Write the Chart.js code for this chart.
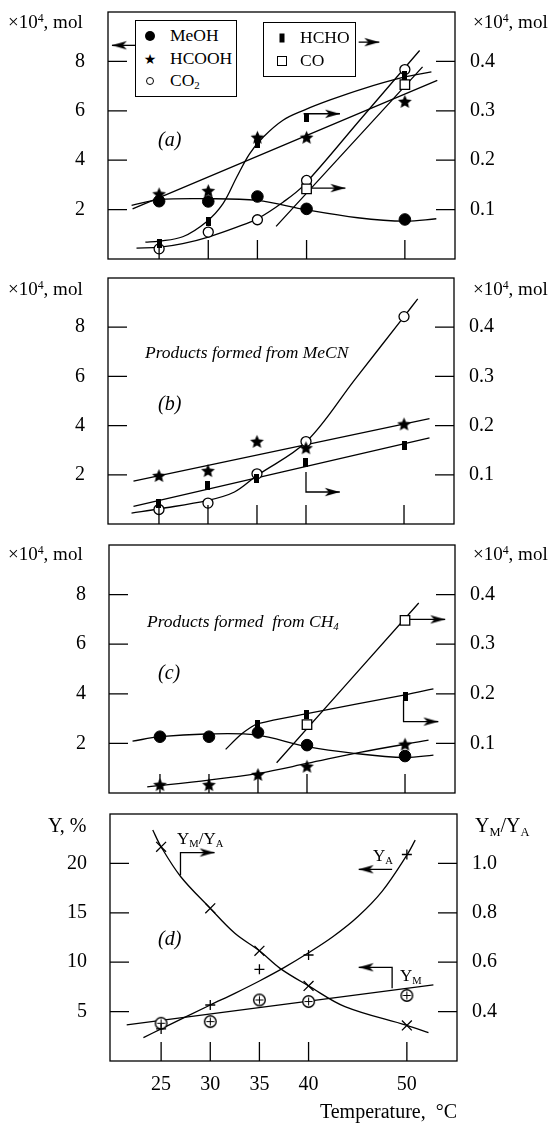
<!DOCTYPE html>
<html lang="en">
<head>
<meta charset="UTF-8">
<title>Products vs temperature</title>
<script src="https://cdn.jsdelivr.net/npm/chart.js"></script>
<style>
  body { margin: 0; background: #fff; }
  #page { position: relative; width: 552px; height: 1125px; overflow: hidden;
          font-family: "Liberation Serif", "Times New Roman", serif; color: #000; }
  canvas { position: absolute; left: 0; }
  .t { position: absolute; white-space: pre; line-height: 1; font-size: 19px; }
  .t sup { font-size: 0.62em; vertical-align: 0.55em; line-height: 0; }
  .t sub, .lg sub { font-size: 0.62em; vertical-align: -0.3em; line-height: 0; }
  .it { font-style: italic; }
  .lg { position: absolute; box-sizing: border-box; border: 1.3px solid #000; background: #fff; font-size: 17.5px; }
  .lg .row { position: absolute; left: 0; right: 0; height: 0; }
  .lg .sym { position: absolute; transform: translate(-50%, -50%); top: 0; }
  .lg .txt { position: absolute; top: -9px; line-height: 1; white-space: pre; }
  .dot { width: 10px; height: 10px; border-radius: 50%; background: #000; }
  .odot { width: 6px; height: 6px; border: 1.3px solid #000; border-radius: 50%; }
  .bar { width: 5px; height: 9px; background: #000; }
  .osq { width: 8px; height: 8px; border: 1.3px solid #000; }
  .star { font-family: "DejaVu Sans", sans-serif; font-size: 14px; line-height: 1; }
</style>
</head>
<body>
<div id="page">
  <canvas id="pa" width="552" height="268" style="top:0px"></canvas>
  <canvas id="pb" width="552" height="267" style="top:268px"></canvas>
  <canvas id="pc" width="552" height="269" style="top:535px"></canvas>
  <canvas id="pd" width="552" height="321" style="top:804px"></canvas>

  <!-- axis titles -->
  <div class="t" style="left:8px;top:12px">×10<sup>4</sup>, mol</div>
  <div class="t" style="left:473px;top:12px">×10<sup>4</sup>, mol</div>
  <div class="t" style="left:8px;top:279px">×10<sup>4</sup>, mol</div>
  <div class="t" style="left:473px;top:279px">×10<sup>4</sup>, mol</div>
  <div class="t" style="left:8px;top:544px">×10<sup>4</sup>, mol</div>
  <div class="t" style="left:473px;top:544px">×10<sup>4</sup>, mol</div>
  <div class="t" style="left:48px;top:815px;font-size:20px">Y, %</div>
  <div class="t" style="left:475px;top:815px;font-size:20px">Y<sub>M</sub>/Y<sub>A</sub></div>

  <!-- panel labels -->
  <div class="t it" style="left:158px;top:129px;font-size:20px">(a)</div>
  <div class="t it" style="left:158px;top:393px;font-size:20px">(b)</div>
  <div class="t it" style="left:158px;top:662px;font-size:20px">(c)</div>
  <div class="t it" style="left:158px;top:928px;font-size:20px">(d)</div>
  <div class="t it" style="left:145px;top:344px;font-size:17.5px">Products formed from MeCN</div>
  <div class="t it" style="left:147px;top:613px;font-size:17.5px">Products formed  from CH<sub>4</sub></div>
  <div class="t" style="left:177px;top:830px;font-size:17px">Y<sub>M</sub>/Y<sub>A</sub></div>
  <div class="t" style="left:373px;top:847px;font-size:17px">Y<sub>A</sub></div>
  <div class="t" style="left:400px;top:967px;font-size:17px">Y<sub>M</sub></div>

  <!-- legend boxes (panel a) -->
  <div class="lg" style="left:135px;top:20px;width:102px;height:77px">
    <div class="row" style="top:15px"><span class="sym dot" style="left:14px"></span><span class="txt" style="left:34px">MeOH</span></div>
    <div class="row" style="top:38px"><span class="sym star" style="left:14px">★</span><span class="txt" style="left:34px">HCOOH</span></div>
    <div class="row" style="top:60px"><span class="sym odot" style="left:14px"></span><span class="txt" style="left:34px">CO<sub>2</sub></span></div>
  </div>
  <div class="lg" style="left:263px;top:22px;width:93px;height:55px">
    <div class="row" style="top:15px"><span class="sym bar" style="left:18px"></span><span class="txt" style="left:36px">HCHO</span></div>
    <div class="row" style="top:38px"><span class="sym osq" style="left:18px"></span><span class="txt" style="left:36px">CO</span></div>
  </div>
</div>

<script>
  // temperatures (°C) and tick values
  const temps = [25, 30, 35, 40, 50];
  const xTicks = [25, 30, 35, 40, 50];
  const molTicks = [2, 4, 6, 8];
  const molTicksRight = [0.1, 0.2, 0.3, 0.4];
  const yieldTicks = [5, 10, 15, 20];
  const ratioTicks = [0.4, 0.6, 0.8, 1.0];

  // (a) measured points, x10^4 mol (HCHO and CO on right axis)
  const aMeOH = [2.34, 2.33, 2.53, 2.03, 1.60];
  const aHCOOH = [2.64, 2.77, 4.93, 4.93, 6.38];
  const aCO2 = [0.41, 1.09, 1.59, 3.18, 7.67];
  const aHCHO = [0.031, 0.075, 0.233, 0.287, 0.372];
  const aCOT = [40, 50];
  const aCO = [0.142, 0.353];
  // (a) drawn curves
  const aMeOHFitT = [22.2, 25, 29.8, 35, 40, 45.2, 50, 53.2];
  const aMeOHFit = [2.17, 2.40, 2.44, 2.37, 1.99, 1.67, 1.53, 1.63];
  const aHCOOHFitT = [22.3, 53.3];
  const aHCOOHFit = [2.03, 7.23];
  const aHCHOFitT = [23.6, 25, 27.4, 29.8, 31.5, 32.9, 34.2, 35.6, 37.6, 39.7, 42.4, 45.8, 49.9, 52.7];
  const aHCHOFit = [0.034, 0.036, 0.045, 0.075, 0.112, 0.166, 0.213, 0.247, 0.281, 0.301, 0.322, 0.345, 0.368, 0.379];
  const aCO2FitT = [22.7, 25.1, 27.4, 30.0, 32.9, 35.0, 37.6, 39.7, 45.6, 51.5];
  const aCO2Fit = [0.44, 0.48, 0.62, 0.89, 1.29, 1.63, 2.30, 2.98, 5.71, 8.44];
  const aCOFitT = [36.9, 51.8];
  const aCOFit = [0.066, 0.389];

  // (b) products from MeCN
  const bHCOOH = [1.97, 2.17, 3.36, 3.10, 4.07];
  const bHCHO = [0.041, 0.078, 0.093, 0.124, 0.160];
  const bCO2 = [0.59, 0.85, 2.04, 3.35, 8.43];
  const bHCOOHFitT = [22.4, 52.6];
  const bHCOOHFit = [1.74, 4.28];
  const bHCHOFitT = [22.4, 52.6];
  const bHCHOFit = [0.036, 0.175];
  const bCO2FitT = [22.2, 25.1, 30.0, 32.7, 35.0, 40.0, 45.0, 50.0, 51.4];
  const bCO2Fit = [0.44, 0.62, 0.96, 1.30, 1.97, 3.33, 5.88, 8.43, 9.15];

  // (c) products from CH4
  const cMeOH = [2.27, 2.27, 2.44, 1.93, 1.49];
  const cHCOOH = [0.34, 0.34, 0.75, 1.08, 1.97];
  const cHCHOT = [35, 40, 50];
  const cHCHO = [0.139, 0.159, 0.194];
  const cCOT = [40, 50];
  const cCO = [0.138, 0.348];
  const cMeOHFitT = [22.2, 25, 29.7, 34.8, 40, 44.8, 50, 52.9];
  const cMeOHFit = [2.09, 2.27, 2.38, 2.34, 1.87, 1.60, 1.43, 1.53];
  const cHCOOHFitT = [23.7, 30, 35, 40, 45.4, 52.4];
  const cHCOOHFit = [0.25, 0.52, 0.79, 1.19, 1.64, 2.13];
  const cHCHOFitT = [31.7, 33.2, 34.4, 35, 40, 50, 52.9];
  const cHCHOFit = [0.088, 0.117, 0.134, 0.140, 0.160, 0.198, 0.210];
  const cCOFitT = [36.9, 51.4];
  const cCOFit = [0.061, 0.383];

  // (d) yields (%) and YM/YA ratio (right axis)
  const dRatio = [1.067, 0.818, 0.646, 0.504, 0.344];
  const dYA = [3.25, 5.67, 9.28, 10.73, 20.9];
  const dYM = [3.82, 3.99, 6.18, 6.02, 6.63];
  const dRatioFitT = [24.15, 25, 27.0, 30, 32.5, 35, 37.1, 40, 43.7, 50, 52.2];
  const dRatioFit = [1.135, 1.067, 0.946, 0.818, 0.717, 0.646, 0.575, 0.504, 0.420, 0.344, 0.315];
  const dYAFitT = [23.2, 25, 30, 32.5, 35, 37.5, 40, 42.5, 45, 47.5, 50, 50.85];
  const dYAFit = [2.37, 3.25, 5.67, 6.85, 8.1, 9.45, 10.95, 12.6, 14.6, 17.2, 20.84, 22.35];
  const dYMFitT = [21.5, 52.7];
  const dYMFit = [3.65, 7.7];

  // pointer arrows (last point carries the head)
  const aArrowLegL = { t: [22.6, 20.2], y: [8.65, 8.65] };
  const aArrowLegR = { t: [45.3, 47.4], y: [8.78, 8.78] };
  const aArrowHCHO = { t: [39.7, 43.4], y: [5.88, 5.88] };
  const aArrowCO = { t: [40.4, 43.95], y: [2.87, 2.87] };
  const bArrowHCHO = { t: [40, 40, 43.45], y: [2.11, 1.30, 1.30] };
  const cArrowCO = { t: [50.4, 54.1], y: [7.0, 7.0] };
  const cArrowHCHO = { t: [49.85, 49.85, 53.4], y: [3.75, 2.88, 2.88] };
  const dArrowRatio = { t: [26.97, 26.97, 30.44], y: [18.8, 21.1, 21.1] };
  const dArrowYA = { t: [48.5, 45.1], y: [19.4, 19.4] };
  const dArrowYM = { t: [48.5, 48.5, 45.1], y: [7.36, 9.48, 9.48] };

  const X_MIN = 19.8, X_MAX = 55.1;
  const LW = 1.3;
  const FONT = { family: "'Liberation Serif', 'Times New Roman', serif", size: 20 };

  // marker glyphs
  function starImg(r) {
    const c = document.createElement('canvas');
    const s = Math.ceil(r * 2 + 2);
    c.width = c.height = s;
    const g = c.getContext('2d');
    g.translate(s / 2, s / 2 + r * 0.1);
    g.beginPath();
    for (let i = 0; i < 10; i++) {
      const rr = i % 2 ? r * 0.46 : r;
      const a = -Math.PI / 2 + i * Math.PI / 5;
      g.lineTo(rr * Math.cos(a), rr * Math.sin(a));
    }
    g.closePath();
    g.fill();
    return c;
  }
  function barImg() {
    const c = document.createElement('canvas');
    c.width = 5; c.height = 9;
    c.getContext('2d').fillRect(0, 0, 5, 9);
    return c;
  }
  function oplusImg() {
    const c = document.createElement('canvas');
    c.width = c.height = 15;
    const g = c.getContext('2d');
    g.lineWidth = 1.4;
    g.fillStyle = '#fff';
    g.strokeStyle = '#000';
    g.beginPath(); g.arc(7.5, 7.5, 5.8, 0, Math.PI * 2); g.fill(); g.stroke();
    g.lineWidth = 1;
    g.beginPath(); g.moveTo(7.5, 3.5); g.lineTo(7.5, 11.5); g.moveTo(3.5, 7.5); g.lineTo(11.5, 7.5); g.stroke();
    return c;
  }
  function headImg() {
    const c = document.createElement('canvas');
    c.width = 34; c.height = 12;
    const g = c.getContext('2d');
    g.beginPath();
    g.moveTo(17, 6); g.lineTo(2, 1.8); g.lineTo(6, 6); g.lineTo(2, 10.2);
    g.closePath();
    g.fill();
    return c;
  }
  const STAR = starImg(7.2), BAR = barImg(), OPLUS = oplusImg(), HEAD = headImg();

  const DOT = { pointStyle: 'circle', pointRadius: 5.8, pointBackgroundColor: '#000', pointBorderColor: '#000', pointBorderWidth: 1 };
  const OPEN = { pointStyle: 'circle', pointRadius: 5, pointBackgroundColor: '#fff', pointBorderColor: '#000', pointBorderWidth: LW };
  const OSQ = { pointStyle: 'rect', pointRadius: 6.7, pointBackgroundColor: '#fff', pointBorderColor: '#000', pointBorderWidth: LW };
  const STARM = { pointStyle: STAR, pointRadius: 6 };
  const BARM = { pointStyle: BAR, pointRadius: 5 };
  const XM = { pointStyle: 'crossRot', pointRadius: 7, pointBorderColor: '#000', pointBorderWidth: LW };
  const PLUS = { pointStyle: 'cross', pointRadius: 5, pointBorderColor: '#000', pointBorderWidth: LW };
  const OPM = { pointStyle: OPLUS, pointRadius: 6 };

  const pts = (xs, ys) => xs.map((x, i) => ({ x: x, y: ys[i] }));

  function marks(xs, ys, style, axis) {
    return Object.assign({ data: pts(xs, ys), showLine: false, yAxisID: axis || 'y' }, style);
  }
  function curve(xs, ys, axis) {
    return { data: pts(xs, ys), showLine: true, borderColor: '#000', borderWidth: LW,
             pointRadius: 0, tension: 0.35, yAxisID: axis || 'y' };
  }
  function arrow(a, rot) {
    return { data: pts(a.t, a.y), showLine: true, borderColor: '#000', borderWidth: LW, tension: 0,
             pointRadius: a.t.map((_, i) => i === a.t.length - 1 ? 6 : 0),
             pointStyle: HEAD, pointRotation: rot, yAxisID: 'y' };
  }

  // frame and inward tick marks
  const frameTicks = {
    id: 'frameTicks',
    afterDraw(chart) {
      const { ctx, chartArea: a, scales } = chart;
      const L = 19;
      ctx.save();
      ctx.strokeStyle = '#000';
      ctx.lineWidth = LW;
      ctx.strokeRect(a.left, a.top, a.right - a.left, a.bottom - a.top);
      ctx.beginPath();
      scales.x.ticks.forEach(t => {
        const p = scales.x.getPixelForValue(t.value);
        ctx.moveTo(p, a.bottom); ctx.lineTo(p, a.bottom - L);
      });
      scales.y.ticks.forEach(t => {
        const p = scales.y.getPixelForValue(t.value);
        ctx.moveTo(a.left, p); ctx.lineTo(a.left + L, p);
      });
      scales.y2.ticks.forEach(t => {
        const p = scales.y2.getPixelForValue(t.value);
        ctx.moveTo(a.right, p); ctx.lineTo(a.right - L, p);
      });
      ctx.stroke();
      ctx.restore();
    }
  };

  function panel(id, cfg) {
    new Chart(document.getElementById(id), {
      type: 'scatter',
      data: { datasets: cfg.datasets },
      options: {
        responsive: false,
        animation: false,
        events: [],
        layout: { padding: { top: cfg.padTop, left: 0, right: 0, bottom: 0 } },
        plugins: { legend: { display: false }, tooltip: { enabled: false } },
        scales: {
          x: {
            type: 'linear', position: 'bottom', min: X_MIN, max: X_MAX,
            afterBuildTicks: s => { s.ticks = xTicks.map(v => ({ value: v })); },
            grid: { display: false, drawTicks: false }, border: { display: false },
            ticks: { display: !!cfg.xLabels, font: FONT, color: '#000', padding: 12, maxRotation: 0, autoSkip: false },
            title: cfg.xLabels
              ? { display: true, text: 'Temperature,  °C', align: 'end', font: FONT, color: '#000', padding: { top: 0, bottom: 0 } }
              : { display: false },
            afterFit: s => { s.height = cfg.xh; s.paddingLeft = 0; s.paddingRight = 0; }
          },
          y: {
            position: 'left', min: cfg.y[0], max: cfg.y[1],
            afterBuildTicks: s => { s.ticks = cfg.yTicks.map(v => ({ value: v })); },
            grid: { display: false, drawTicks: false }, border: { display: false },
            ticks: { font: FONT, color: '#000', padding: 23, autoSkip: false },
            afterFit: s => { s.width = cfg.left; s.paddingTop = 0; s.paddingBottom = 0; }
          },
          y2: {
            position: 'right', min: cfg.y2[0], max: cfg.y2[1],
            afterBuildTicks: s => { s.ticks = cfg.y2Ticks.map(v => ({ value: v })); },
            grid: { display: false, drawTicks: false }, border: { display: false },
            ticks: { font: FONT, color: '#000', padding: 15, autoSkip: false, callback: v => v.toFixed(1) },
            afterFit: s => { s.width = 552 - cfg.right; s.paddingTop = 0; s.paddingBottom = 0; }
          }
        }
      },
      plugins: [frameTicks]
    });
  }

  panel('pa', {
    padTop: 12, xh: 9, left: 108, right: 455, y: [0, 10], y2: [0, 0.5], yTicks: molTicks, y2Ticks: molTicksRight,
    datasets: [
      marks(temps, aMeOH, DOT),
      marks(temps, aHCOOH, STARM),
      marks(temps, aHCHO, BARM, 'y2'),
      marks(aCOT, aCO, OSQ, 'y2'),
      marks(temps, aCO2, OPEN),
      arrow(aArrowLegL, 180), arrow(aArrowLegR, 0), arrow(aArrowHCHO, 0), arrow(aArrowCO, 0),
      curve(aMeOHFitT, aMeOHFit),
      curve(aHCOOHFitT, aHCOOHFit),
      curve(aHCHOFitT, aHCHOFit, 'y2'),
      curve(aCO2FitT, aCO2Fit),
      curve(aCOFitT, aCOFit, 'y2')
    ]
  });

  panel('pb', {
    padTop: 10, xh: 11, left: 108, right: 454, y: [0, 10], y2: [0, 0.5], yTicks: molTicks, y2Ticks: molTicksRight,
    datasets: [
      marks(temps, bHCOOH, STARM),
      marks(temps, bHCHO, BARM, 'y2'),
      marks(temps, bCO2, OPEN),
      arrow(bArrowHCHO, 0),
      curve(bHCOOHFitT, bHCOOHFit),
      curve(bHCHOFitT, bHCHOFit, 'y2'),
      curve(bCO2FitT, bCO2Fit)
    ]
  });

  panel('pc', {
    padTop: 10, xh: 11, left: 109, right: 455, y: [0, 10], y2: [0, 0.5], yTicks: molTicks, y2Ticks: molTicksRight,
    datasets: [
      marks(temps, cHCOOH, STARM),
      marks(temps, cMeOH, DOT),
      marks(cHCHOT, cHCHO, BARM, 'y2'),
      marks(cCOT, cCO, OSQ, 'y2'),
      arrow(cArrowCO, 0), arrow(cArrowHCHO, 0),
      curve(cMeOHFitT, cMeOHFit),
      curve(cHCOOHFitT, cHCOOHFit),
      curve(cHCHOFitT, cHCHOFit, 'y2'),
      curve(cCOFitT, cCOFit, 'y2')
    ]
  });

  panel('pd', {
    padTop: 10, xh: 64, left: 110, right: 457, y: [0, 25], y2: [0.2, 1.2], yTicks: yieldTicks, y2Ticks: ratioTicks,
    xLabels: true,
    datasets: [
      marks(temps, dRatio, XM, 'y2'),
      marks(temps, dYA, PLUS),
      marks(temps, dYM, OPM),
      arrow(dArrowRatio, 0), arrow(dArrowYA, 180), arrow(dArrowYM, 180),
      curve(dRatioFitT, dRatioFit, 'y2'),
      curve(dYAFitT, dYAFit),
      curve(dYMFitT, dYMFit)
    ]
  });
</script>
</body>
</html>
